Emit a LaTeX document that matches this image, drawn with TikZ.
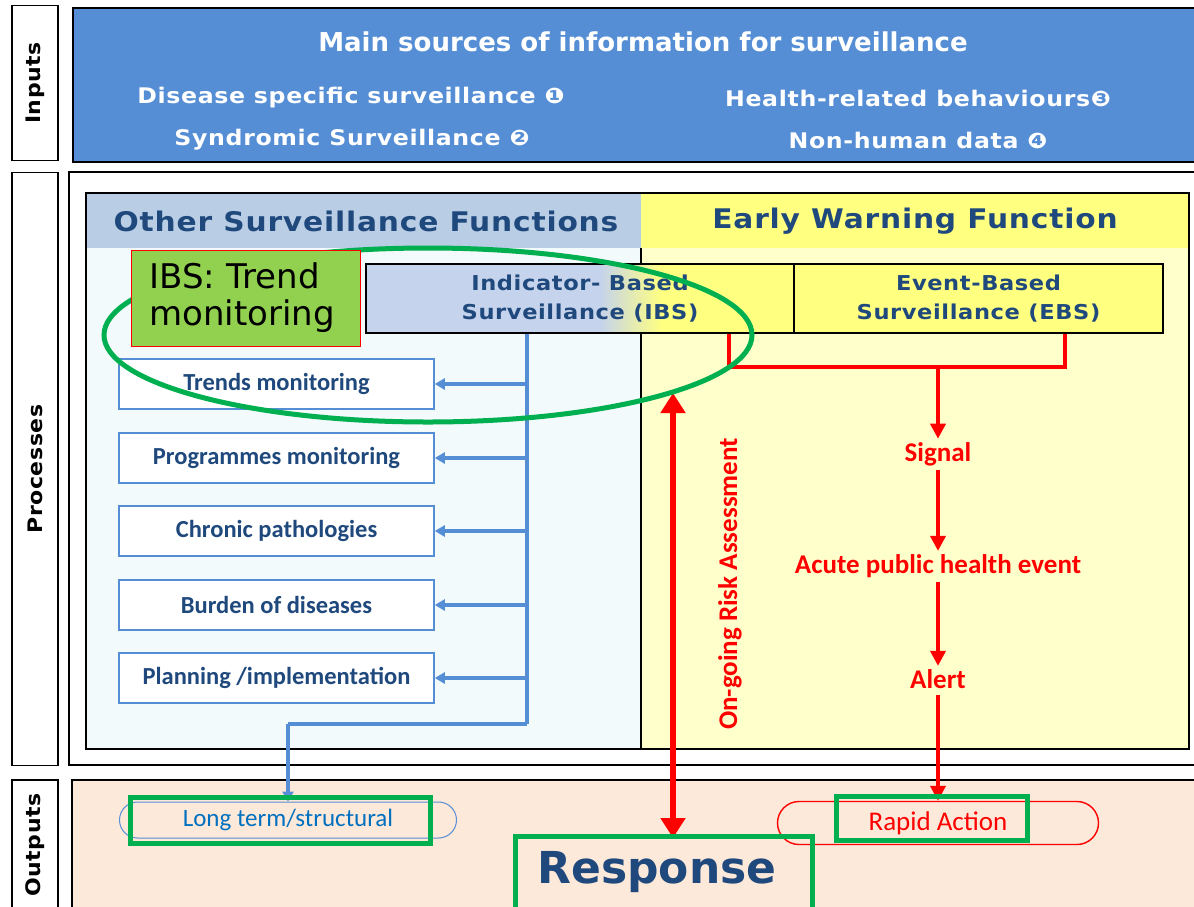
\documentclass[tikz,border=0pt]{standalone}
\usepackage{fontspec}
\setmainfont{DejaVu Sans}
\newfontfamily\calfont{Carlito}
\newfontfamily\widefont[FakeStretch=1.1,LetterSpace=3]{DejaVu Sans}
\usetikzlibrary{arrows.meta,shapes.misc}
\definecolor{inblue}{RGB}{85,142,213}
\definecolor{hdrblue}{RGB}{185,205,229}
\definecolor{hdryel}{RGB}{255,255,128}
\definecolor{paleyel}{RGB}{255,255,204}
\definecolor{paleblue}{RGB}{243,250,251}
\definecolor{ibsblue}{RGB}{197,211,236}
\definecolor{peach}{RGB}{253,233,217}
\definecolor{dblue}{RGB}{31,73,125}
\definecolor{lblue}{RGB}{0,112,192}
\definecolor{gr}{RGB}{0,176,80}
\definecolor{lgr}{RGB}{146,208,80}
\definecolor{rd}{RGB}{255,0,0}
\tikzset{
  side/.style={draw=black,line width=1.2pt,fill=white,minimum height=46,text=black,rotate=90,inner sep=0,font=\widefont\bfseries\fontsize{20}{24}\selectfont},
  listbox/.style={draw=inblue,line width=1.6pt,fill=white,minimum width=315,minimum height=50,text=dblue,font=\calfont\bfseries\fontsize{24.5}{28}\selectfont},
  bluearr/.style={draw=inblue,line width=3.2pt,-{Triangle[length=10pt,width=11pt]}},
  bluelin/.style={draw=inblue,line width=3.2pt},
  redarr/.style={draw=rd,line width=3.6pt,-{Triangle[length=15pt,width=15pt]}},
  redlin/.style={draw=rd,line width=3.6pt},
  redtxt/.style={text=rd,font=\calfont\bfseries\fontsize{27}{31}\selectfont},
  subtxt/.style={text=white,font=\widefont\bfseries\fontsize{21.5}{25}\selectfont},
  hdrtxt/.style={text=dblue,font=\widefont\bfseries\fontsize{27}{31}\selectfont},
  hl/.style={draw=gr,line width=5pt},
}
\begin{document}
\begin{tikzpicture}[x=1pt,y=-1pt]
\useasboundingbox (0,0) rectangle (1194,906);
\fill[white] (0,0) rectangle (1194,906);
% ---------- Inputs ----------
\node[side,minimum width=155] (linp) at (35,83) {Inputs};
\node[draw=black,line width=2pt,fill=inblue,minimum width=1122,minimum height=154,anchor=north west,inner sep=0] (inbox) at (72,7) {};
\node[text=white,font=\bfseries\fontsize{26}{30}\selectfont] (ttl) at (643,42) {Main sources of information for surveillance};
\node[subtxt] (s1) at (351,98) {Disease specific surveillance ❶};
\node[subtxt] (s2) at (352,140) {Syndromic Surveillance ❷};
\node[subtxt] (s3) at (918,98) {Health-related behaviours❸};
\node[subtxt] (s4) at (918,140) {Non-human data ❹};
% ---------- Processes ----------
\node[side,minimum width=593] (lproc) at (35,469) {Processes};
\draw[black,line width=1.6pt] (69,172) rectangle (1196,765);
\fill[hdrblue] (86,193) rectangle (641,248);
\fill[hdryel] (641,193) rectangle (1189,248);
\fill[paleblue] (86,248) rectangle (641,749);
\fill[paleyel] (641,248) rectangle (1189,749);
\draw[black,line width=1.6pt] (86,193) rectangle (1189,749);
\draw[black,line width=1.4pt] (641,248) -- (641,749);
\node[hdrtxt] (osf) at (366,221) {Other Surveillance Functions};
\node[hdrtxt] (ewf) at (915,221) {Early Warning Function};
% IBS / EBS
\fill[ibsblue] (366,264) rectangle (600,333);
\shade[left color=ibsblue,right color=hdryel] (600,264) rectangle (662,333);
\fill[hdryel] (662,264) rectangle (1163,333);
\node[draw=black,line width=1.6pt,minimum width=428,minimum height=69,inner sep=0,align=center,text=dblue,font=\widefont\bfseries\fontsize{20.5}{29}\selectfont] (ibs) at (580,298.5) {Indicator- Based\\Surveillance (IBS)};
\node[draw=black,line width=1.6pt,minimum width=369,minimum height=69,inner sep=0,align=center,text=dblue,font=\widefont\bfseries\fontsize{20.5}{29}\selectfont] (ebs) at (978.5,298.5) {Event-Based\\Surveillance (EBS)};
% list boxes
\node[listbox] (b1) at (276.5,384) {Trends monitoring};
\node[listbox] (b2) at (276.5,458) {Programmes monitoring};
\node[listbox] (b3) at (276.5,531) {Chronic pathologies};
\node[listbox] (b4) at (276.5,605) {Burden of diseases};
\node[listbox] (b5) at (276.5,678) {Planning /implementation};
\coordinate (vt) at (527,333);
\coordinate (vb) at (527,724);
\coordinate (lc) at (288,724);
\draw[bluelin] (ibs.south -| vt) -- (vb);
\draw[bluearr] (527,384) -- (b1.east);
\draw[bluearr] (527,458) -- (b2.east);
\draw[bluearr] (527,531) -- (b3.east);
\draw[bluearr] (527,605) -- (b4.east);
\draw[bluearr] (527,678) -- (b5.east);
% ---------- Outputs ----------
\node[side,minimum width=130] (lout) at (35,845) {Outputs};
\draw[black,line width=1.6pt,fill=peach] (72,780) rectangle (1200,915);
\node[rounded rectangle,draw=inblue,line width=1pt,minimum width=337,minimum height=36,inner sep=0,text=lblue,font=\calfont\fontsize{25}{29}\selectfont] (lt) at (288,820) {Long term/structural};
\node[rounded rectangle,draw=rd,line width=1.4pt,minimum width=321,minimum height=43,inner sep=0,text=rd,font=\calfont\fontsize{27}{31}\selectfont] (ra) at (938,823) {Rapid Action};
\draw[bluelin] (vb) -- (lc);
\draw[bluearr] (lc) -- (lt.north);
% EWS chain
\coordinate (rl) at (729,367);
\coordinate (rr) at (1065,367);
\coordinate (rm) at (938,367);
\draw[redlin] (ibs.south -| rl) -- (rl) -- (rr) -- (ebs.south -| rr);
\node[redtxt] (sig) at (938,454) {Signal};
\node[redtxt] (acu) at (938,566) {Acute public health event};
\node[redtxt] (alr) at (938,679) {Alert};
\draw[redarr] (rm) -- (sig.north);
\draw[redarr] (sig.south) ++(0,1) coordinate (a1) (a1) -- (acu.north);
\draw[redarr] (acu.south) ++(0,1) coordinate (a2) (a2) -- (alr.north);
\draw[redarr] (alr.south) ++(0,3) coordinate (a3) (a3) -- (ra.north);
% Response
\node[text=dblue,font=\bfseries\fontsize{44}{50}\selectfont] (resp) at (657,872) {Response};
\coordinate (dtop) at (673,393);
\draw[draw=rd,line width=6pt,{Triangle[length=20pt,width=24pt]}-{Triangle[length=20pt,width=24pt]}] (dtop) -- (673,838);
\node[redtxt,rotate=90] (ora) at (730,584) {On-going Risk Assessment};
% highlights
\draw[hl] (428,335) ellipse [x radius=324, y radius=87];
\node[draw=red,line width=1pt,fill=lgr,minimum width=229,minimum height=96,inner sep=0,text width=192,align=left,text=black,font=\fontsize{34}{37}\selectfont] (ibsn) at (245.5,298) {IBS: Trend\\monitoring};
\draw[hl] (130,797) rectangle (430,843);
\draw[hl] (836,796) rectangle (1027,840);
\draw[hl] (515,836) rectangle (812,912);
\end{tikzpicture}
\end{document}
